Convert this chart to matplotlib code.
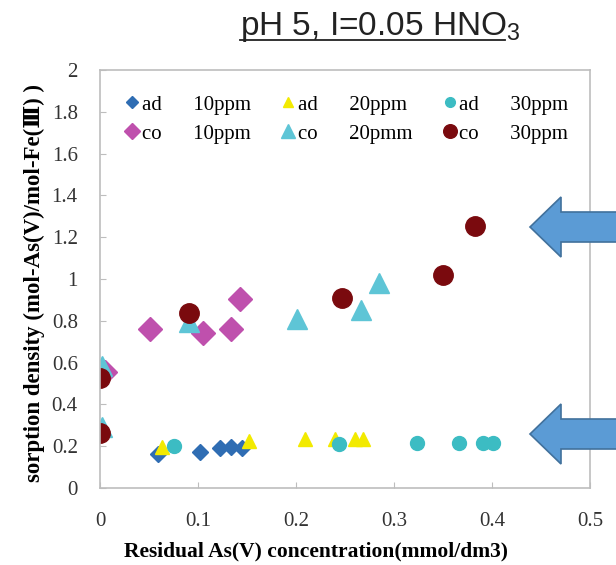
import numpy as np
import matplotlib as mpl
import matplotlib.pyplot as plt
from matplotlib.patches import Polygon
from matplotlib.lines import Line2D

mpl.rcParams['font.family'] = ['Liberation Serif', 'DejaVu Serif']
mpl.rcParams['mathtext.fontset'] = 'custom'
mpl.rcParams['mathtext.rm'] = 'Liberation Sans'
mpl.rcParams['xtick.direction'] = 'in'
mpl.rcParams['ytick.direction'] = 'in'

# ---- data ----
ad10_x = [0.059, 0.102, 0.122, 0.134, 0.145]
ad10_y = [0.163, 0.174, 0.190, 0.195, 0.190]

ad20_x = [0.063, 0.152, 0.209, 0.240, 0.260, 0.268]
ad20_y = [0.195, 0.226, 0.233, 0.236, 0.236, 0.233]

ad30_x = [0.075, 0.244, 0.323, 0.366, 0.391, 0.401]
ad30_y = [0.202, 0.210, 0.214, 0.214, 0.214, 0.214]

co10_x = [0.005, 0.051, 0.105, 0.134, 0.143]
co10_y = [0.556, 0.761, 0.740, 0.759, 0.903]

co20_x = [0.002, 0.002, 0.091, 0.201, 0.266, 0.285]
co20_y = [0.290, 0.584, 0.796, 0.807, 0.852, 0.980]

co30_x = [0.0, 0.0, 0.091, 0.247, 0.350, 0.383]
co30_y = [0.265, 0.525, 0.836, 0.908, 1.019, 1.255]

labels = ['ad      10ppm', 'ad      20ppm', 'ad      30ppm',
          'co      10ppm', 'co      20pmm', 'co      30ppm']

W, H = 616, 565
fig = plt.figure(figsize=(W / 100, H / 100), dpi=100)
ax = fig.add_axes([100 / W, 1 - 488 / H, 490 / W, 418 / H])

h1, = ax.plot(ad10_x, ad10_y, 'D', color='#2f6db3', ms=8.5, ls='none', label=labels[0])
h2, = ax.plot(ad20_x, ad20_y, '^', color='#f2ea00', ms=10, ls='none', label=labels[1])
h3, = ax.plot(ad30_x, ad30_y, 'o', color='#3cbcc3', ms=10, ls='none', label=labels[2])
h4, = ax.plot(co10_x, co10_y, 'D', color='#bf50ad', ms=12, ls='none', label=labels[3])
h5, = ax.plot(co20_x, co20_y, '^', color='#5ec5d6', ms=14, ls='none', label=labels[4])
h6, = ax.plot(co30_x, co30_y, 'o', color='#7a0a0e', ms=14, ls='none', label=labels[5])

ax.set_xlim(0, 0.5)
ax.set_ylim(0, 2)
xt = np.arange(0, 0.51, 0.1)
yt = np.arange(0, 2.01, 0.2)
ax.set_xticks(xt)
ax.set_yticks(yt)
ax.set_xticklabels([f'{v:g}' for v in np.round(xt, 1)])
ax.set_yticklabels([f'{v:g}' for v in np.round(yt, 1)])
ax.tick_params(labelsize=15, colors='#333333', length=4)
ax.tick_params(axis='x', pad=17)
ax.tick_params(axis='y', pad=16)
ax.tick_params(color='#bdbdbd')
for s in ax.spines.values():
    s.set_color('#bdbdbd')
    s.set_linewidth(1.2)

ax.set_xlabel('Residual As(V) concentration(mmol/dm3)', fontsize=15.5,
              fontweight='bold')
ax.xaxis.set_label_coords(0.44, -0.128)
ax.set_ylabel('sorption density (mol-As(V)/mol-Fe(Ⅲ) )', fontsize=16.5,
              fontweight='bold')
ax.yaxis.set_label_coords(-0.113, 0.49)

# legend, order in rows of 3
leg = ax.legend(handles=[h1, h4, h2, h5, h3, h6],
                labels=[labels[0], labels[3], labels[1], labels[4], labels[2], labels[5]],
                ncol=3, loc='upper left', bbox_to_anchor=(0.015, 0.985),
                frameon=False, fontsize=15, handlelength=0.6, handletextpad=0.15,
                columnspacing=1.5, labelspacing=0.45, markerscale=0.7)

# title, underlined
t = fig.text(0.617, 0.953, 'pH 5, I=0.05 HNO$_3$', family='Liberation Sans',
             fontsize=24, ha='center', va='center', color='#222222')
fig.canvas.draw()
bb = t.get_window_extent()
fig.add_artist(Line2D([bb.x0 / W, (bb.x1 - 15) / W], [1 - 40 / H, 1 - 40 / H],
                      transform=fig.transFigure, color='#222222', lw=1.3))


# blue arrows pointing left at the right edge
def arrow(tip_y):
    pts = [(530, tip_y), (561, tip_y - 30), (561, tip_y - 15), (620, tip_y - 15),
           (620, tip_y + 15), (561, tip_y + 15), (561, tip_y + 30)]
    pts = [(px / W, 1 - py / H) for px, py in pts]
    fig.add_artist(Polygon(pts, closed=True, transform=fig.transFigure,
                           facecolor='#5b9bd5', edgecolor='#41719c', lw=1.2))


arrow(227)
arrow(434)

fig.savefig('out.png', dpi=100)
